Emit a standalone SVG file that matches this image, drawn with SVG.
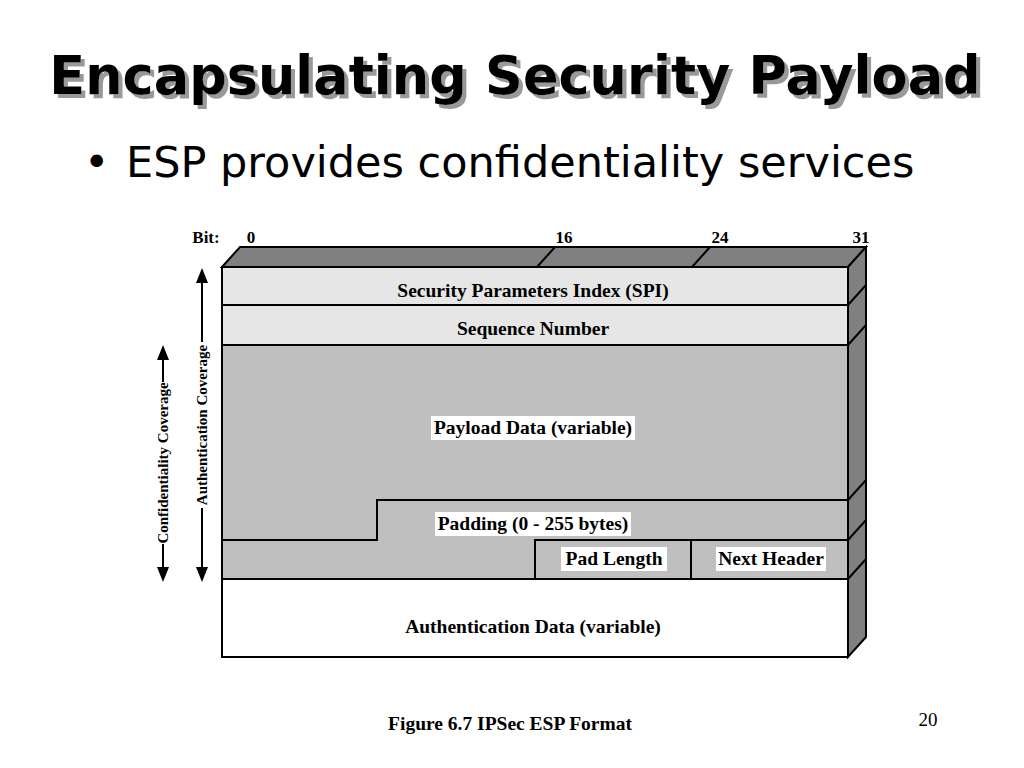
<svg xmlns="http://www.w3.org/2000/svg" width="1024" height="768" viewBox="0 0 1024 768">
<style>
.t{font-family:"Liberation Serif",serif;font-weight:bold;font-size:19.5px;text-anchor:middle}
.s{stroke:#000;stroke-width:2}
.lb{fill:#fff}
</style>
<defs>
<filter id="sh" x="-5%" y="-20%" width="110%" height="140%"><feDropShadow dx="4" dy="4" stdDeviation="0.5" flood-color="#999"/></filter>
</defs>
<rect width="1024" height="768" fill="#fff"/>
<g id="title" font-family="'Comic Sans MS','DejaVu Sans',sans-serif" font-weight="bold" font-size="52.5" text-anchor="middle" filter="url(#sh)">
<text x="515" y="94" fill="#000">Encapsulating Security Payload</text>
</g>
<text x="126" y="177" font-family="'DejaVu Sans',sans-serif" font-size="43">ESP provides confidentiality services</text>
<text x="84" y="177" font-family="'DejaVu Sans',sans-serif" font-size="43">•</text>
<g id="bits" class="t" font-size="17">
<text x="206" y="243" style="font-size:17px">Bit:</text><text x="251" y="243" style="font-size:17px">0</text><text x="564" y="243" style="font-size:17px">16</text><text x="720" y="243" style="font-size:17px">24</text><text x="861" y="243" style="font-size:17px">31</text>
</g>
<g id="faces" class="s">
<path d="M222,267 L240,247 L866,247 L848,267Z" fill="#808080"/>
<path d="M848,267 L866,247 L866,637 L848,657Z" fill="#808080"/>
<path d="M537,267 L555,247 M692,267 L710,247 M848,305 L866,285 M848,345 L866,325 M848,500 L866,480 M848,540 L866,520 M848,579 L866,559" fill="none"/>
</g>
<g id="spi"><rect x="222" y="267" width="626" height="38" fill="#e6e6e6" class="s"/><text class="t" x="533" y="297">Security Parameters Index (SPI)</text></g>
<g id="seq"><rect x="222" y="305" width="626" height="40" fill="#e6e6e6" class="s"/><text class="t" x="533" y="335">Sequence Number</text></g>
<g id="payload"><path d="M222,345 H848 V500 H377 V540 H222Z" fill="#bfbfbf" class="s"/><rect class="lb" x="431" y="416" width="204" height="24"/><text class="t" x="533" y="434">Payload Data (variable)</text></g>
<g id="padding"><path d="M377,500 H848 V540 H535 V579 H222 V540 H377Z" fill="#bfbfbf" class="s"/><rect class="lb" x="435" y="512" width="196" height="24"/><text class="t" x="533" y="530">Padding (0 - 255 bytes)</text></g>
<g id="padlen"><rect x="535" y="540" width="156" height="39" fill="#bfbfbf" class="s"/><rect class="lb" x="561" y="547" width="106" height="24"/><text class="t" x="614" y="565">Pad Length</text></g>
<g id="nexthdr"><rect x="691" y="540" width="157" height="39" fill="#bfbfbf" class="s"/><rect class="lb" x="716" y="547" width="110" height="24"/><text class="t" x="771" y="565">Next Header</text></g>
<g id="auth"><rect x="222" y="579" width="626" height="78" fill="#fff" class="s"/><text class="t" x="533" y="633">Authentication Data (variable)</text></g>
<g id="connectors" stroke="#000" stroke-width="2">
<line x1="202" y1="280" x2="202" y2="342"/>
<line x1="202" y1="508" x2="202" y2="570"/>
<line x1="163" y1="357" x2="163" y2="382"/>
<line x1="163" y1="544" x2="163" y2="570"/>
<g stroke="none" fill="#000">
<path d="M202,268 L196,283 L208,283Z"/><path d="M202,582 L196,567 L208,567Z"/>
<path d="M163,345 L157,360 L169,360Z"/><path d="M163,582 L157,567 L169,567Z"/>
</g>
</g>
<g class="t">
<text transform="translate(207,425) rotate(-90)" style="font-size:15px">Authentication Coverage</text>
<text transform="translate(168,463) rotate(-90)" style="font-size:15px">Confidentiality Coverage</text>
</g>
<text class="t" x="510" y="730">Figure 6.7  IPSec ESP Format</text>
<text x="928" y="726" font-family="'Liberation Serif',serif" font-size="19" text-anchor="middle">20</text>
</svg>
